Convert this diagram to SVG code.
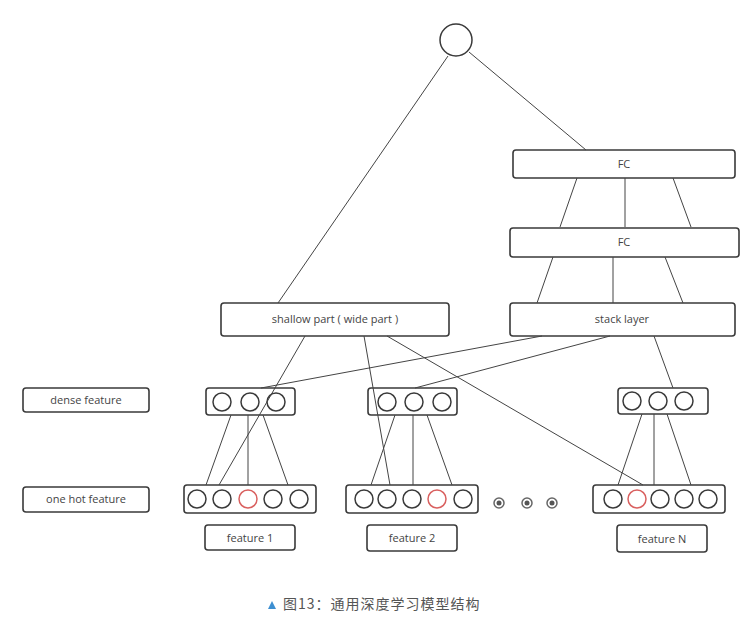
<svg xmlns="http://www.w3.org/2000/svg" width="754" height="639" viewBox="0 0 754 639">
<style>
.box{fill:#fff;stroke:#3a3a3a;stroke-width:1.6}
.c{fill:#fff;stroke:#3a3a3a;stroke-width:1.5}
.r{fill:#fff;stroke:#d9605f;stroke-width:1.5}
.t{font-family:"Open Sans","Liberation Sans",sans-serif;font-size:11px;fill:#444;text-anchor:middle}
.ln{stroke:#444;stroke-width:1;fill:none}
.dot{fill:#fff;stroke:#666;stroke-width:1.5}
.dc{fill:#555}
</style>
<rect width="754" height="639" fill="#fff"/>
<g id="output"><circle cx="456" cy="40" r="16" class="c"/></g>
<g id="fc1"><rect x="513" y="150" width="222" height="28" rx="3" class="box"/><text x="624" y="168" class="t">FC</text></g>
<g id="fc2"><rect x="510" y="228" width="229" height="29" rx="3" class="box"/><text x="624" y="246" class="t">FC</text></g>
<g id="shallow"><rect x="221" y="303" width="228" height="33" rx="3" class="box"/><text x="335" y="323" class="t">shallow part ( wide part )</text></g>
<g id="stack"><rect x="510" y="303" width="225" height="33" rx="3" class="box"/><text x="622" y="323" class="t">stack layer</text></g>
<g id="dense-label"><rect x="23" y="388" width="126" height="24" rx="3" class="box"/><text x="86" y="404" class="t">dense feature</text></g>
<g id="onehot-label"><rect x="23" y="487" width="126" height="25" rx="3" class="box"/><text x="86" y="503" class="t">one hot feature</text></g>
<g id="dense1"><rect x="206" y="388" width="89" height="27" rx="3" class="box"/><circle cx="222" cy="402" r="9" class="c"/><circle cx="250" cy="402" r="9" class="c"/><circle cx="276" cy="402" r="9" class="c"/></g>
<g id="dense2"><rect x="368" y="388" width="89" height="27" rx="3" class="box"/><circle cx="387" cy="402" r="9" class="c"/><circle cx="414" cy="402" r="9" class="c"/><circle cx="442" cy="402" r="9" class="c"/></g>
<g id="dense3"><rect x="618" y="388" width="90" height="26" rx="3" class="box"/><circle cx="632" cy="401" r="9" class="c"/><circle cx="658" cy="401" r="9" class="c"/><circle cx="684" cy="401" r="9" class="c"/></g>
<g id="onehot1"><rect x="184" y="485" width="132" height="28" rx="3" class="box"/><circle cx="197" cy="499" r="9" class="c"/><circle cx="222" cy="499" r="9" class="c"/><circle cx="248" cy="499" r="9" class="r"/><circle cx="273" cy="499" r="9" class="c"/><circle cx="299" cy="499" r="9" class="c"/></g>
<g id="onehot2"><rect x="346" y="485" width="132" height="28" rx="3" class="box"/><circle cx="364" cy="499" r="9" class="c"/><circle cx="387" cy="499" r="9" class="c"/><circle cx="412" cy="499" r="9" class="c"/><circle cx="437" cy="499" r="9" class="r"/><circle cx="463" cy="499" r="9" class="c"/></g>
<g id="ellipsis"><circle cx="499" cy="503" r="5" class="dot"/><circle cx="499" cy="503" r="2.5" class="dc"/><circle cx="527" cy="503" r="5" class="dot"/><circle cx="527" cy="503" r="2.5" class="dc"/><circle cx="552" cy="503" r="5" class="dot"/><circle cx="552" cy="503" r="2.5" class="dc"/></g>
<g id="onehot3"><rect x="593" y="485" width="132" height="28" rx="3" class="box"/><circle cx="613" cy="499" r="9" class="c"/><circle cx="637" cy="499" r="9" class="r"/><circle cx="660" cy="499" r="9" class="c"/><circle cx="684" cy="499" r="9" class="c"/><circle cx="708" cy="499" r="9" class="c"/></g>
<g id="feature1"><rect x="205" y="525" width="90" height="25" rx="3" class="box"/><text x="250" y="542" class="t">feature 1</text></g>
<g id="feature2"><rect x="367" y="525" width="90" height="26" rx="3" class="box"/><text x="412" y="542" class="t">feature 2</text></g>
<g id="featureN"><rect x="617" y="525" width="90" height="27" rx="3" class="box"/><text x="662" y="543" class="t">feature N</text></g>
<g id="connectors" class="ln">
<line x1="448" y1="56" x2="278" y2="303"/>
<line x1="469" y1="52" x2="586" y2="150"/>
<line x1="577" y1="178" x2="560" y2="227"/>
<line x1="625" y1="178" x2="625" y2="227"/>
<line x1="673" y1="178" x2="691" y2="227"/>
<line x1="553" y1="257" x2="537" y2="303"/>
<line x1="613" y1="257" x2="613" y2="303"/>
<line x1="665" y1="257" x2="683" y2="303"/>
<line x1="305" y1="336" x2="219" y2="485"/>
<line x1="364" y1="336" x2="390" y2="485"/>
<line x1="387" y1="336" x2="643" y2="485"/>
<line x1="542" y1="336" x2="261" y2="388"/>
<line x1="610" y1="336" x2="415" y2="388"/>
<line x1="654" y1="336" x2="673" y2="388"/>
<line x1="231" y1="415" x2="206" y2="485"/>
<line x1="248" y1="415" x2="248" y2="485"/>
<line x1="263" y1="415" x2="288" y2="485"/>
<line x1="395" y1="415" x2="371" y2="485"/>
<line x1="413" y1="415" x2="413" y2="485"/>
<line x1="427" y1="415" x2="452" y2="485"/>
<line x1="642" y1="414" x2="618" y2="485"/>
<line x1="654" y1="414" x2="654" y2="485"/>
<line x1="667" y1="414" x2="691" y2="485"/>
</g>
<g id="caption"><polygon points="268,609 276,609 272,601" fill="#3d8fd1"/><text x="283" y="609" font-family="'Noto Sans CJK SC','Liberation Sans',sans-serif" font-size="14" letter-spacing="1" fill="#555">图13：通用深度学习模型结构</text></g>
</svg>
